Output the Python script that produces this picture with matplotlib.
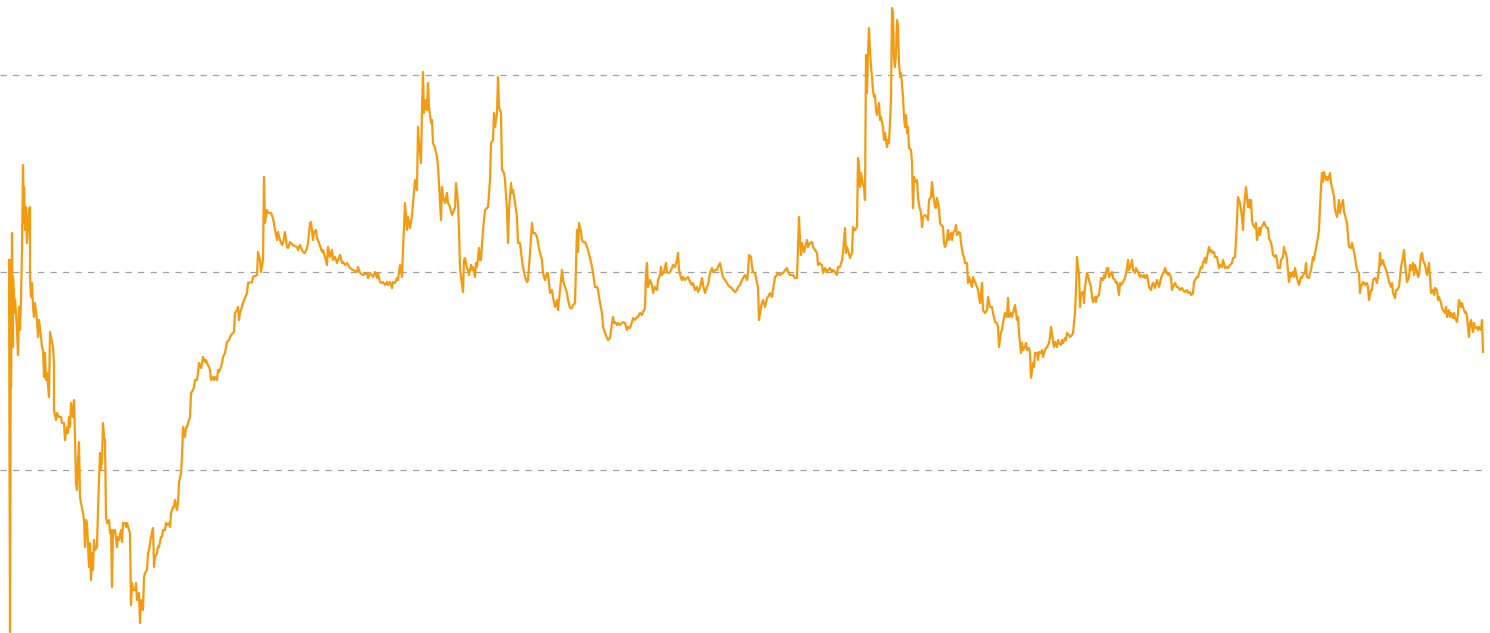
import matplotlib
matplotlib.use("Agg")
import matplotlib.pyplot as plt

# Series: (time index, value) in chart units
seg_a = [(9,373),(10,1),(11,373),(11,246),(12,400),(13,286),(13,356),(15,320),(15,333),(17,303),
(18,278),(19,326),(20,303),(21,333),(22,383),(23,468),(24,410),(24,446),(25,403),(26,426),
(27,390),(28,406),(29,423),(30,426),(30,356),(31,336),(32,350),(33,326),(34,316),(35,330),
(37,313),(38,296),(39,313),(41,296),(42,286),(43,283),(44,256),(45,280),(46,253),(47,260),
(49,236),(50,301),(51,296),(53,286),(54,270),(54,223),(56,213),(57,220),(59,216),(61,216),
(62,210),(64,210),(65,193),(67,206),(68,200),(69,216),(70,206),(71,230),(73,216),(74,233),
(75,196),(76,150),(77,143),(78,173),(79,191),(80,136),(81,130),(83,120),(84,113),(85,86),
(86,113),(87,110),(89,66),(90,90),(91,53),(92,80),(93,63),(94,93),(95,83),(97,86),
(98,123),(99,150),(100,180),(101,163),(102,173),(103,210),(104,196),(105,193),(106,116),(107,110),
(109,113),(110,100),(111,103),(112,46),(113,103),(114,100),(115,103),(117,86),(118,96),(119,93),
(121,103),(122,91),(123,110),(125,110),(126,106),(127,110),(129,103),(130,100),(131,28),(132,50),
(133,43),(135,43),(136,50),(137,33),(139,40),(140,10),(141,33),(143,23),(144,56),(145,60),
(147,63),(148,80),(149,83),(151,96),(152,101),(153,105),(154,66),(155,76),(157,80),(158,86),
(159,86),(161,96),(162,96),(163,103),(165,103),(166,110),(167,108),(169,110),(170,106),(171,120),
(173,126),(174,126),(175,133),(177,123),(178,130),(179,150),(181,160),(182,176),(183,206),(185,196),
(186,206),(187,206),(189,213),(190,216),(191,240),(193,243),(194,246),(195,253),(197,253),(198,260),
(199,270),(201,265),(202,270),(203,276),(205,271),(206,273),(207,270),(209,266),(210,263),(211,253),
(213,256),(214,253),(215,256),(217,253),(218,263),(219,261),(221,266),(222,270),(223,276),(225,280),
(226,286),(227,291),(229,293),(230,296),(231,298),(233,300),(234,301),(235,320),(237,323),(238,326),
(239,313)]

seg_b = [(240,320),(243,330),(247,340),(248,350),(252,351),(253,356),(257,358),(258,381),(260,373),(261,361),
(263,373),(264,456),(265,410),(267,423),(268,420),(271,420),(273,415),(275,403),(277,393),(278,401),
(280,393),(282,388),(283,390),(285,401),(287,386),(288,385),(290,391),(293,388),(297,386),(298,383),
(300,388),(302,383),(303,381),(305,380),(307,385),(308,390),(310,410),(311,411),(313,393),(314,401),
(316,403),(317,395),(319,390),(322,381),(323,383),(325,376),(327,368),(328,386),(330,376),(332,383),
(333,373),(335,376),(337,370),(338,373),(340,378),(342,370),(343,371),(345,368),(347,370),(350,365),
(353,363),(357,361),(358,366),(360,360),(363,358),(367,360),(368,355),(370,360),(373,356),(375,361),
(377,355),(378,360),(380,351),(382,350),(383,351),(385,348),(387,351),(388,348),(390,351),(392,345),
(393,351),(395,350),(397,355),(398,353),(400,368),(402,356),(403,383),(405,430),(407,403),(408,416),
(410,405),(412,418),(413,430),(415,453),(417,443),(418,506),(419,490),(421,470),(422,523),(423,561),
(424,520),(426,533),(427,523),(428,550),(429,526),(431,510),(432,513),(433,490),(435,485),(437,476),
(438,466),(439,450),(441,413),(442,446),(443,436),(445,430),(447,440),(448,430),(450,426),(452,418),
(453,420),(455,426),(456,450),(458,430),(459,403),(460,366),(461,356),(463,341),(464,373),(465,375),
(467,365),(468,363),(469,358),(471,368),(472,363),(473,366),(475,356),(476,370),(477,366),(479,385),
(480,373),(481,373),(483,403),(485,423),(488,426),(490,453),(491,490),(493,493),(494,520),(495,506),
(497,520),(498,556),(499,526),(501,520)]

seg_c = [(502,463),(504,460),(505,453),(507,423),(508,390),(509,423),(511,450),(512,440),(513,443),(515,430),
(517,416),(518,390),(520,390),(522,373),(523,366),(525,356),(527,351),(528,353),
(530,380),(532,410),(533,400),(535,400),(537,396),(538,390),(540,380),(542,373),(543,360),
(545,353),(547,360),(548,360),(550,340),(552,343),(553,336),(555,326),(557,333),
(558,323),(560,343),(562,363),(563,353),(565,346),(567,340),(568,333),(570,325),
(572,325),(573,328),(575,330),(577,403),(578,381),(579,410),(581,401),(582,393),(583,391),
(585,391),(587,386),(588,383),(590,375),(592,366),(593,360),(595,346),(597,346),(598,343),(600,330),
(602,320),(603,306),(605,300),(607,295),(608,293),(610,295),(612,310),(613,316),(614,310),(615,311),
(617,308),(618,310),(620,308),(622,310),(623,311),(625,310),(627,303),(628,306),(630,305),(632,311),
(633,315),(635,313),(637,316),(638,316),(640,320),(642,318),(643,321),(645,325),(646,360),(647,370),
(648,346),(650,353),(652,348),(653,340),(655,346),(657,343),(658,353),(660,358),(661,366),(662,358),
(664,361),(666,370),(667,361),(668,360),(670,361),(672,365),(673,368),(675,366),(677,373),(678,380),
(679,363),(681,355),(682,353),(683,356),(685,353),(687,355),(688,356),(690,351),(692,348),(693,350),
(695,343),(697,346),(698,341),(700,345),(702,355),(703,348),(705,340),(707,346),(708,348),(710,360),
(712,365),(713,361),(715,363),(717,363),(718,366),(720,370),(722,360),(723,356),(725,353),(727,350),
(728,348),(730,346),(732,345),(733,343),(735,341),(737,343),(738,346),(740,348),(742,353),(743,355),
(745,358),(747,353),(748,360),(749,378),(751,376),(752,366),(753,361),(755,360),(757,350),(758,346),
(759,313),(761,326),(762,330),(763,333),(765,326),(767,335),(768,336),(770,340),(772,336),(773,343),
(775,356),(777,358),(778,360)]

seg_d = [(780,358),(783,360),(787,365),(788,361),(790,358),(793,358),(795,355),(797,355),(799,416),(800,393),
(801,378),(802,390),(804,381),(805,385),(807,393),(808,386),(810,390),(812,391),(813,386),(815,383),
(817,380),(818,368),(819,370),(822,368),(823,360),(825,365),(827,361),(828,363),(830,365),(832,361),
(833,363),(835,361),(837,358),(838,366),(840,366),(842,373),(843,380),(845,405),(846,380),(847,386),
(848,383),(850,375),(852,380),(853,406),(854,403),(855,403),(857,406),(858,475),(859,466),(860,446),
(861,460),(863,448),(864,446),(865,433),(866,578),(867,540),(868,580),(869,605),(870,583),(871,566),
(872,556),(873,543),(874,536),(875,538),(876,523),(877,518),(879,530),(880,513),(881,516),(883,506),
(884,493),(885,500),(887,486),(888,493),(889,490),(891,533),(892,625),(893,620),(894,573),(895,566),
(896,580),(897,613),(898,606),(899,570),(900,556),(901,560),(903,536),(904,516),(905,506),(906,518),
(907,500),(908,506),(909,485),(911,483),(912,470),(913,425),(914,456),(915,451),(917,453),(918,436),
(919,428),(921,420),(922,406),(923,416),(925,418),(927,416),(928,413),(929,433),(931,436),(932,451),
(933,440),(935,426),(936,425),(937,435),(939,425),(940,410),(941,408),(943,406),(944,390),(945,386),
(947,393),(948,403),(949,393),(951,400),(952,393),(953,400),(955,403),(956,408),(957,398),(959,401),
(960,400),(961,390),(963,378),(964,376),(965,370),(967,370),(968,350),(969,356)]

seg_e = [(970,353),(972,346),(973,356),(975,351),(977,346),(978,343),(980,330),(982,350),(983,323),(985,320),
(987,323),(988,336),(990,326),(992,326),(993,320),(995,311),(997,310),(998,306),(999,286),(1001,301),
(1002,303),(1003,310),(1005,320),(1007,316),(1008,335),(1009,316),(1011,320),(1012,316),(1013,320),(1015,328),
(1017,313),(1018,316),(1019,300),(1021,280),(1022,290),(1023,283),(1025,286),(1026,290),(1027,283),(1029,285),
(1030,280),(1031,255),(1033,270),(1034,266),(1035,280),(1037,280),(1038,273),(1039,281),(1041,280),(1042,283),
(1043,276),(1045,283),(1046,285),(1047,286),(1049,290),(1050,296),(1051,306),(1053,293),(1054,286),(1055,291),
(1057,286),(1058,293),(1059,290),(1061,288),(1062,293),(1063,290),(1065,295),(1066,293),(1067,300),(1069,298),
(1070,296),(1072,298),(1073,300),(1075,320),(1076,343),(1077,376),(1078,366),(1079,360),(1080,326),(1081,340),
(1083,341),(1084,330),(1085,346),(1087,360),(1088,358),(1089,353),(1091,346),(1092,336),(1093,331),(1095,336),
(1096,331),(1097,336),(1099,338),(1100,346),(1101,355),(1103,353),(1104,358),(1105,355),(1107,365),(1108,365),
(1109,356),(1111,360),(1112,361),(1113,355),(1115,353),(1116,350),(1117,351),(1119,338),(1120,350),(1121,348),
(1123,351),(1124,353),(1125,355),(1127,365),(1128,373),(1129,363),(1131,368),(1132,373),(1133,363),(1135,360),
(1136,365),(1137,363),(1139,358),(1140,356),(1141,358),(1143,356),(1144,358),(1145,355),(1147,358),(1148,353),
(1149,346),(1151,343),(1152,348),(1153,350),(1155,345),(1156,350),(1157,353),(1159,346),(1160,350),(1161,355),
(1163,360),(1164,361),(1165,365),(1167,360),(1168,358),(1169,360),(1171,356),(1172,343),(1173,346),(1175,350),
(1177,346),(1178,346),(1180,343),(1182,345),(1183,343),(1185,341),(1187,343),(1188,340),(1190,341),(1191,338),
(1193,340),(1194,351),(1195,353),(1197,356),(1198,356),(1199,360),(1201,366),(1202,365),(1203,370),(1205,375),
(1206,370),(1207,376),(1209,386),(1210,381),(1211,383),(1213,380),(1214,381),(1215,376),(1217,376),(1218,370),
(1219,365)]

seg_f = [(1220,368),(1222,366),(1223,373),(1225,365),(1227,366),(1228,365),(1230,368),(1232,370),(1233,375),(1235,376),
(1236,393),(1237,413),(1238,436),(1239,433),(1240,430),(1242,416),(1243,403),(1244,425),(1245,435),(1246,446),
(1247,436),(1248,426),(1249,433),(1250,425),(1251,433),(1252,413),(1253,408),(1255,405),(1256,410),(1257,393),
(1259,405),(1260,398),(1261,405),(1263,408),(1264,411),(1265,408),(1267,405),(1268,405),(1269,395),(1271,390),
(1272,386),(1273,378),(1275,376),(1276,378),(1277,373),(1278,365),(1280,365),(1281,373),(1283,376),(1284,386),
(1285,380),(1286,380),(1287,373),(1289,351),(1290,360),(1291,356),(1293,361),(1294,356),(1295,365),(1297,355),
(1298,351),(1299,348),(1301,356),(1302,355),(1303,358),(1305,360),(1306,370),(1307,356),(1309,355),(1310,360),
(1311,363),(1313,376),(1314,373),(1315,380),(1317,390),(1318,396),(1319,403),(1321,446),(1322,460),(1323,451),
(1324,461),(1326,453),(1327,456),(1328,453),(1330,460),(1331,450),(1332,446),(1334,436),(1335,423),(1336,420),
(1337,416),(1339,433),(1340,420),(1341,426),(1343,433),(1344,421),(1345,418),(1347,410),(1348,396),(1349,386),
(1351,385),(1352,390),(1353,386),(1355,376),(1356,368),(1357,363),(1359,360),(1360,340),(1361,346),(1363,351),
(1364,350),(1365,348),(1367,350),(1368,346),(1369,333),(1371,343),(1372,343),(1373,353),(1375,355),(1376,353),
(1377,350),(1379,363),(1380,380),(1381,368),(1383,373),(1384,368),(1385,366),(1387,360),(1388,356),(1389,351),
(1391,346),(1392,350),(1393,340),(1395,335),(1396,343),(1397,343),(1399,346),(1400,356),(1401,366),(1403,376),
(1404,383),(1405,370),(1406,360),(1407,351),(1409,356),(1410,368),(1411,363),(1413,370),(1414,358),(1415,368),
(1417,361),(1418,356),(1419,358),(1421,378),(1422,380),(1423,373),(1425,368),(1426,363),(1427,358),(1429,370),
(1430,356),(1431,340),(1433,343),(1434,338),(1435,345),(1437,343),(1438,333),(1439,336),(1441,330),(1442,325),
(1443,323),(1445,320),(1446,326),(1447,316),(1449,323),(1450,316),(1451,320),(1453,315),(1454,320),(1455,315),
(1457,311),(1458,320),(1459,333),(1461,326),(1462,330),(1463,326),(1465,320),(1466,321),(1467,316),(1469,296),
(1470,310),(1471,313),(1473,301),(1474,310),(1475,305),(1477,306),(1478,303),(1479,306),(1481,303),(1482,313),
(1483,281)]

grid_levels = [163, 361, 558]

points = seg_a + seg_b + seg_c + seg_d + seg_e + seg_f
xs = [p[0] for p in points]
vals = [p[1] for p in points]

fig = plt.figure(figsize=(14.9, 6.33), dpi=100)
ax = fig.add_axes([0, 0, 1, 1])
for lv in grid_levels:
    ax.axhline(lv, xmin=0, xmax=1486/1490, color="#a0a0a0", lw=0.9,
               linestyle=(0, (5, 5)), zorder=1)
ax.plot(xs, vals, color="#f39c12", lw=1.6, solid_joinstyle="round", zorder=3)
ax.set_xlim(0, 1490)
ax.set_ylim(0, 633)
ax.axis("off")
fig.savefig("out.png", dpi=100, facecolor="white")
